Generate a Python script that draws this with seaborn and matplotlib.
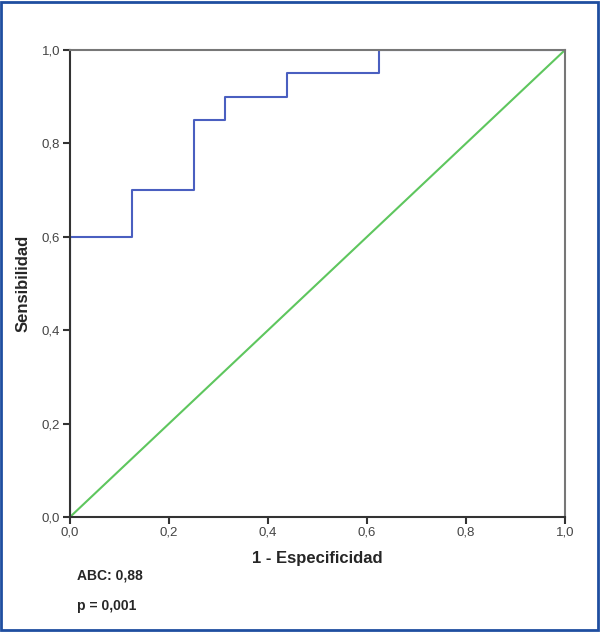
import matplotlib
matplotlib.use("Agg")
import matplotlib.pyplot as plt
import seaborn as sns
import pandas as pd
from matplotlib.patches import Rectangle

# Data
fpr = [0.0, 0.0, 0.125, 0.25, 0.3125, 0.4375, 0.625, 1.0]
tpr = [0.0, 0.6, 0.7, 0.85, 0.9, 0.95, 1.0, 1.0]
ref_x = [0.0, 1.0]
ref_y = [0.0, 1.0]
ticks = [0.0, 0.2, 0.4, 0.6, 0.8, 1.0]
tick_labels = ["0,0", "0,2", "0,4", "0,6", "0,8", "1,0"]

sns.set_style("white")
plt.rcParams['font.family'] = ['Liberation Sans', 'DejaVu Sans']

fig = plt.figure(figsize=(6.0, 6.33), dpi=100)
ax = fig.add_axes([70/600, 1-517/633, (565-70)/600, (517-50)/633])

df_roc = pd.DataFrame({"x": fpr, "y": tpr})
df_ref = pd.DataFrame({"x": ref_x, "y": ref_y})
sns.lineplot(data=df_ref, x="x", y="y", ax=ax, color="#5ec65e", lw=1.5,
             sort=False, estimator=None)
sns.lineplot(data=df_roc, x="x", y="y", ax=ax, color="#4a5fc0", lw=1.5,
             drawstyle="steps-post", sort=False, estimator=None)

ax.set_xlim(0, 1)
ax.set_ylim(0, 1)
ax.set_xticks(ticks)
ax.set_xticklabels(tick_labels)
ax.set_yticks(ticks)
ax.set_yticklabels(tick_labels)
ax.tick_params(axis='both', direction='out', length=5, width=1.5, colors="#333333",
               labelsize=9.5, labelcolor="#444444", left=True, bottom=True, pad=2)
for s in ["left", "bottom"]:
    ax.spines[s].set_color("#333333")
    ax.spines[s].set_linewidth(1.5)
for s in ["top", "right"]:
    ax.spines[s].set_color("#777777")
    ax.spines[s].set_linewidth(1.5)

ax.set_xlabel("1 - Especificidad", fontsize=12, fontweight="bold", labelpad=9)
ax.set_ylabel("Sensibilidad", fontsize=12, fontweight="bold", labelpad=8)

fig.text(77/600, 1-575/633, "ABC: 0,88", fontsize=10, fontweight="bold", va="center")
fig.text(77/600, 1-606/633, "p = 0,001", fontsize=10, fontweight="bold", va="center")

fig.patches.append(Rectangle((0.002, 0.004), 0.994, 0.993, transform=fig.transFigure,
                             fill=False, edgecolor="#1f4ea0", lw=2))

fig.savefig("out.png", dpi=100)
